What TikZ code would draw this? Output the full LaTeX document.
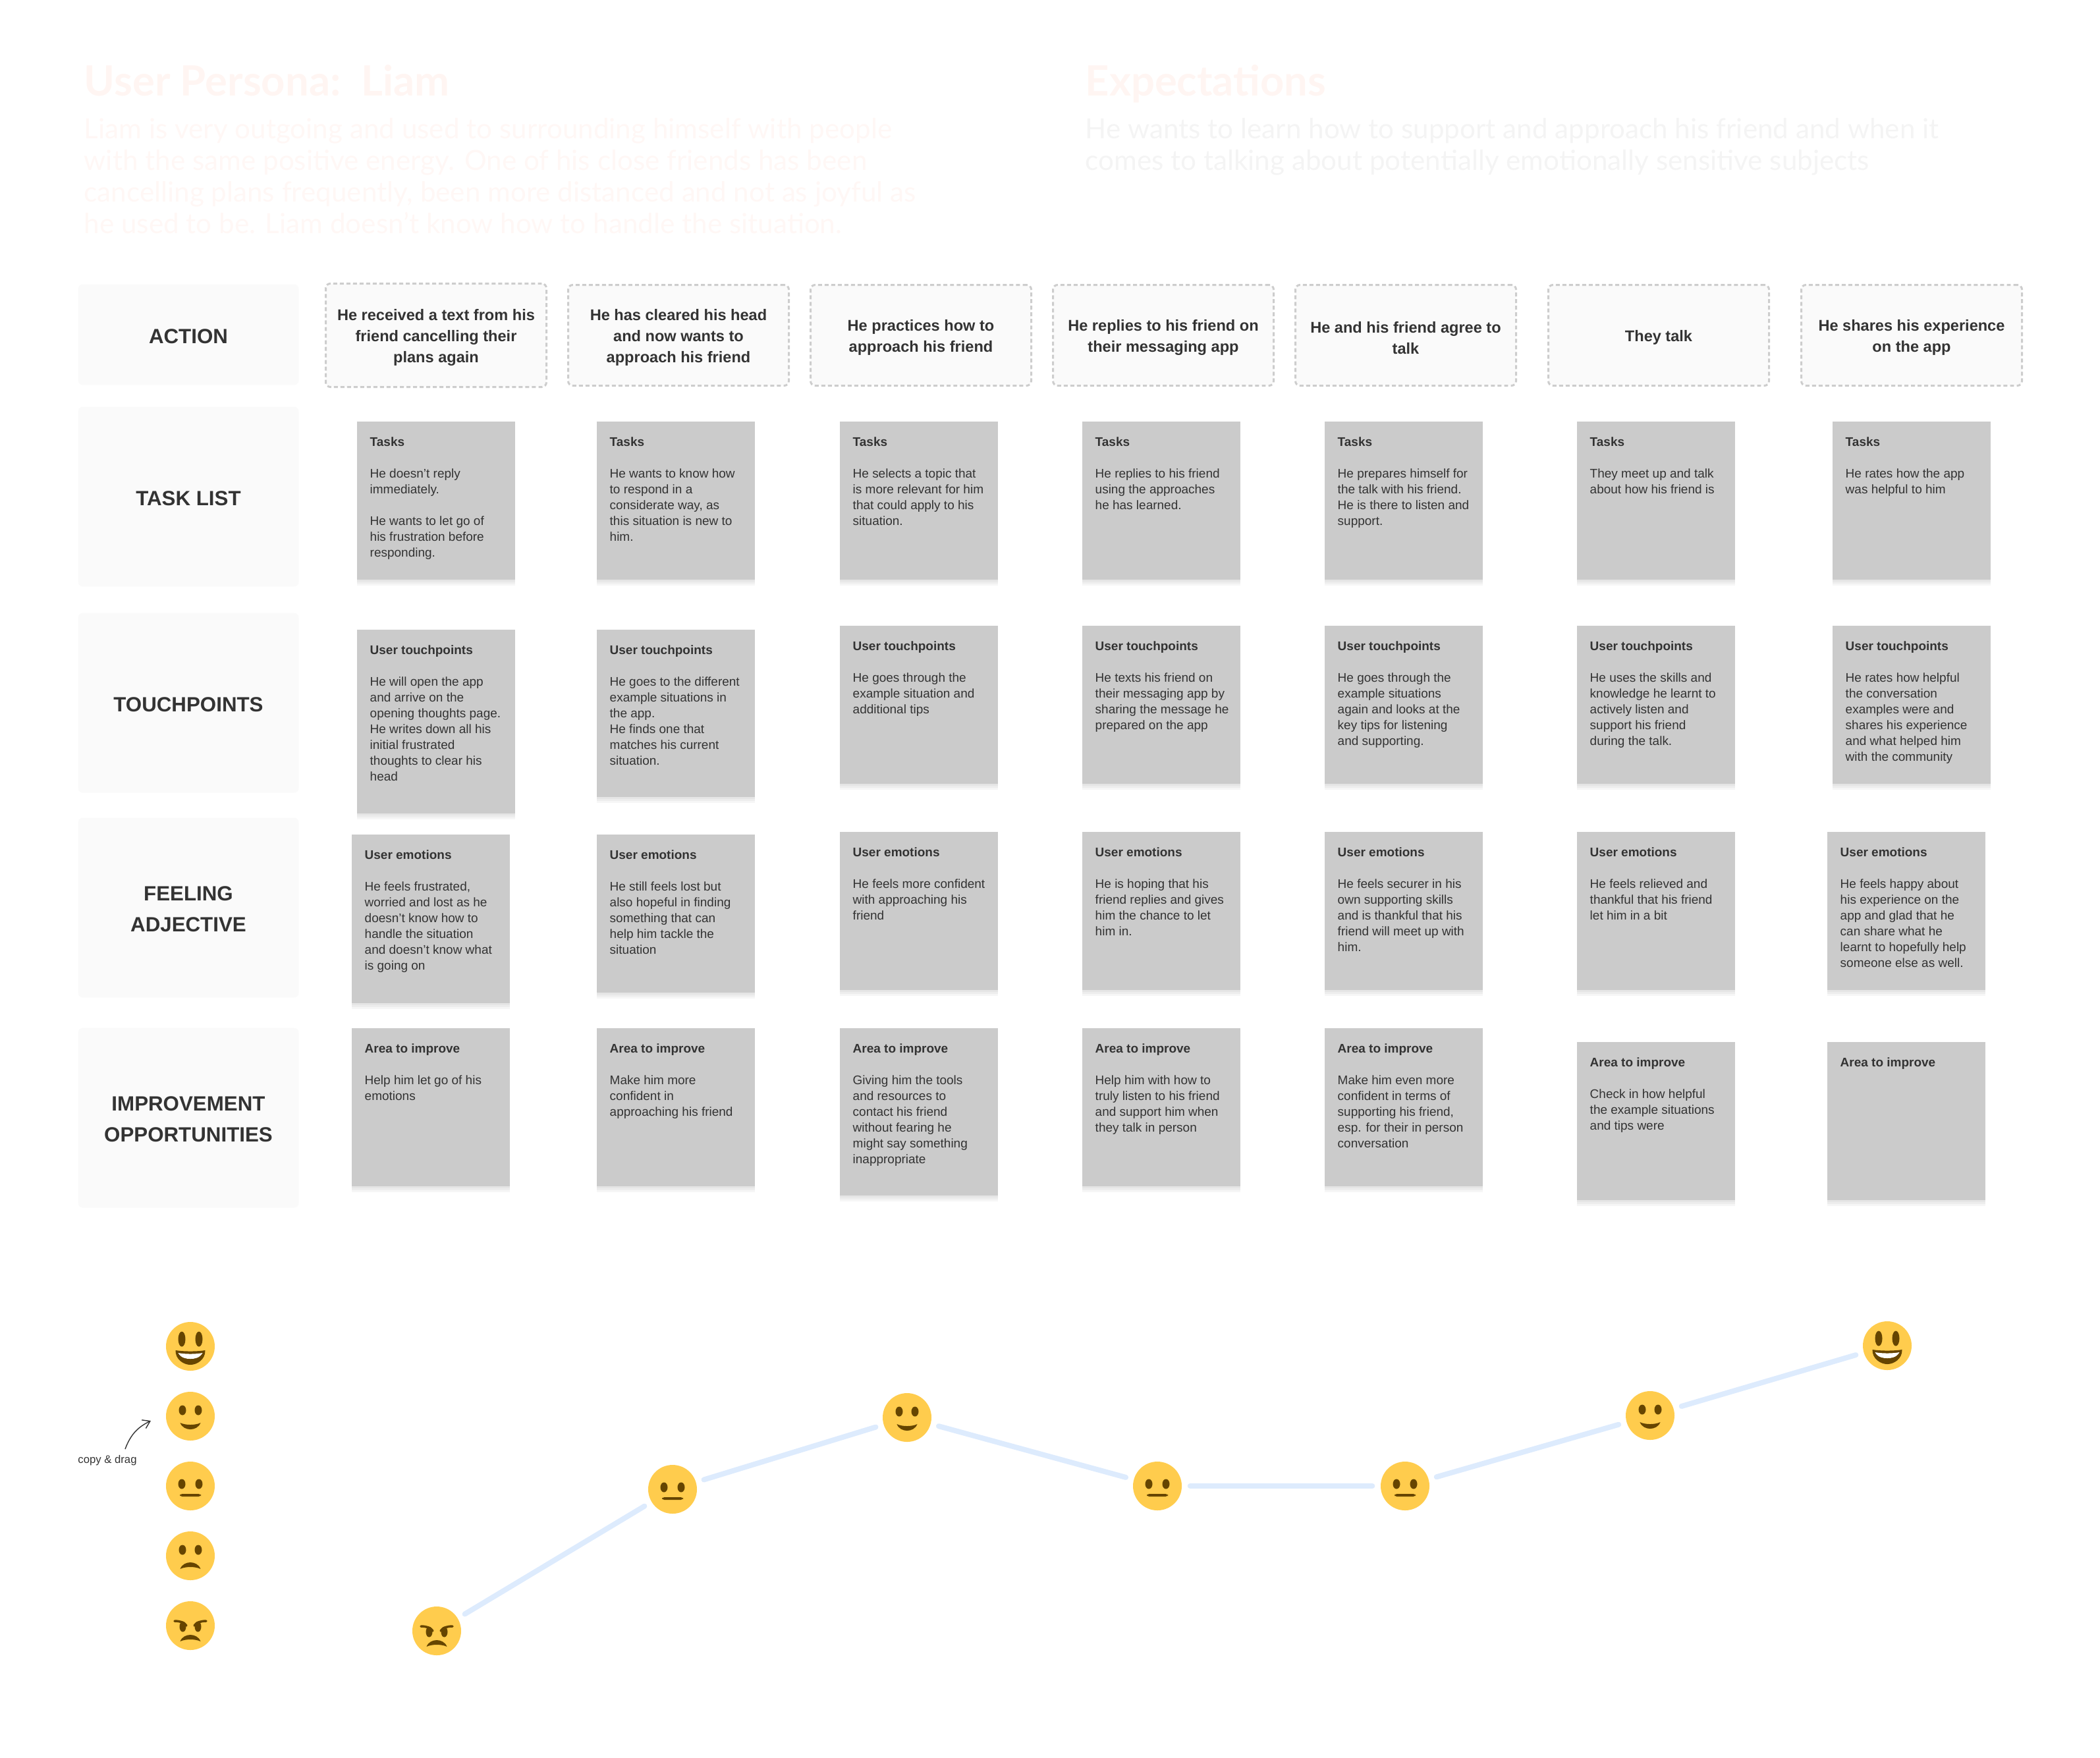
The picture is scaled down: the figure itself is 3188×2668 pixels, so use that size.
\documentclass[tikz,border=0pt]{standalone}
\usepackage{fontspec}
\setmainfont{Liberation Sans}
\newfontfamily\headfont{Lato}
\usetikzlibrary{positioning,arrows.meta,shadows,calc}
\definecolor{InkGrey}{RGB}{51,51,51}
\definecolor{PanelGrey}{RGB}{250,250,250}
\definecolor{DashGrey}{RGB}{205,205,205}
\definecolor{StickyGrey}{RGB}{203,203,203}
\definecolor{FaceYellow}{RGB}{255,204,77}
\definecolor{FaceBrown}{RGB}{102,69,0}
\definecolor{MoodBlue}{RGB}{221,235,253}
\definecolor{FaintRose}{RGB}{255,245,242}
\definecolor{FainterRose}{RGB}{255,247,245}
\definecolor{FaintGrey}{RGB}{244,244,244}
\def\px{0.01cm}
\tikzset{
  rowbox/.style={fill=PanelGrey, rounded corners=2pt, minimum width=335*\px, minimum height=273*\px,
    inner sep=0pt, align=center, text=InkGrey, font=\fontsize{8.9}{13.5}\selectfont\bfseries},
  actbox/.style={fill=PanelGrey, draw=DashGrey, line width=0.85pt, dash pattern=on 1.7pt off 1.15pt, rounded corners=2pt,
    minimum width=335*\px, minimum height=153*\px, inner sep=0pt, align=center, text=InkGrey,
    font=\fontsize{6.7}{9.1}\selectfont\bfseries},
  softshade/.style={drop shadow={shadow xshift=0pt, shadow yshift=-#1, opacity=0.035, fill=black}},
  sticky/.style={softshade=2.6pt, softshade=1.7pt, softshade=0.9pt, fill=StickyGrey, anchor=north west,
    minimum width=240*\px, inner sep=0pt},
  stickytxt/.style={anchor=north west, inner sep=0pt, align=left, text=InkGrey,
    font=\fontsize{5.4}{6.83}\selectfont},
  facenode/.style={circle, fill=FaceYellow, minimum size=74*\px, inner sep=0pt},
  moodline/.style={MoodBlue, line width=8*\px, line cap=round, shorten <=12*\px, shorten >=12*\px},
  eye/.style={fill=FaceBrown},
  brown/.style={fill=FaceBrown},
  headtxt/.style={anchor=north west, inner sep=0pt, align=left, font=\headfont\fontsize{18}{22}\selectfont\bfseries, text=FaintRose},
  bodytxt/.style={anchor=north west, inner sep=0pt, align=left, font=\headfont\fontsize{12}{13.65}\selectfont},
  pics/grin/.style={code={
    \fill[eye] (-13,-11) circle[x radius=5.5, y radius=11.5];
    \fill[eye] (13,-11) circle[x radius=5.5, y radius=11.5];
    \fill[brown] (-22.5,6) .. controls (-10,8) and (10,8) .. (22.5,6) .. controls (23,20) and (10,28) .. (0,28) .. controls (-10,28) and (-23,20) .. (-22.5,6) -- cycle;
    \fill[white] (-18.5,10) .. controls (-8,12) and (8,12) .. (18.5,10) .. controls (14,18) and (6,19) .. (0,19) .. controls (-6,19) and (-14,18) .. (-18.5,10) -- cycle;
  }},
  pics/smile/.style={code={
    \fill[eye] (-12,-9) circle[x radius=5.5, y radius=7.5];
    \fill[eye] (12,-9) circle[x radius=5.5, y radius=7.5];
    \fill[brown] (-15.5,10) .. controls (-8,14) and (8,14) .. (15.5,10) .. controls (13,17) and (6,20) .. (0,20) .. controls (-6,20) and (-13,17) .. (-15.5,10) -- cycle;
  }},
  pics/plainface/.style={code={
    \fill[eye] (-13,-3) circle[x radius=5.5, y radius=7.5];
    \fill[eye] (13,-3) circle[x radius=5.5, y radius=7.5];
    \fill[brown, rounded corners=1pt] (-16,12) rectangle (16,16);
  }},
  pics/frown/.style={code={
    \fill[eye] (-12,-9) circle[x radius=5.5, y radius=7.5];
    \fill[eye] (12,-9) circle[x radius=5.5, y radius=7.5];
    \fill[brown] (-15.5,20) .. controls (-13,13) and (-6,10) .. (0,10) .. controls (6,10) and (13,13) .. (15.5,20) .. controls (8,16) and (-8,16) .. (-15.5,20) -- cycle;
  }},
  pics/angry/.style={code={
    \fill[eye] (-11.5,1.5) circle[x radius=5, y radius=8];
    \fill[eye] (11.5,1.5) circle[x radius=5, y radius=8];
    \draw[FaceBrown, line width=3.5*\px, line cap=round] (-24,-7) .. controls (-16,-7) and (-9,-5) .. (-6,0);
    \draw[FaceBrown, line width=3.5*\px, line cap=round] (24,-7) .. controls (16,-7) and (9,-5) .. (6,0);
    \fill[brown] (-15.5,24) .. controls (-13,17) and (-6,14) .. (0,14) .. controls (6,14) and (13,17) .. (15.5,24) .. controls (8,20) and (-8,20) .. (-15.5,24) -- cycle;
  }},
}
\begin{document}
\begin{tikzpicture}[x=0.01cm, y=-0.01cm]
  \useasboundingbox (0,0) rectangle (3188,2668);
  % persona and expectations, very faint
  \node[headtxt] (persona) at (127,98) {User Persona:\ \ Liam};
  \node[bodytxt, text=FainterRose] (personatxt) at (127,179) {Liam is very outgoing and used to surrounding himself with people\\
    with the same positive energy. One of his close friends has been\\
    cancelling plans frequently, been more distanced and not as joyful as\\
    he used to be. Liam doesn’t know how to handle the situation.};
  \node[headtxt] (expect) at (1647,98) {Expectations};
  \node[bodytxt, text=FaintGrey] (expecttxt) at (1647,179) {He wants to learn how to support and approach his friend and when it\\
    comes to talking about potentially emotionally sensitive subjects};
  % row headers
  \foreach \nm/\yy/\hh/\txt in {act/508/153/ACTION, tsk/754/273/TASK LIST, tch/1067/273/TOUCHPOINTS,
      fel/1378/273/{FEELING\\ADJECTIVE}, imp/1697/273/{IMPROVEMENT\\OPPORTUNITIES}} {
    \node[rowbox, minimum height=\hh*\px] (\nm) at (286,\yy) {\rule{0pt}{7.5pt}\txt};
  }
  % action row
  \foreach \xx/\yy/\hh/\txt [count=\c from 1] in {662/509/157/{He received a text from his\\friend cancelling their\\plans again},
      1030/509/153/{He has cleared his head\\and now wants to\\approach his friend},
      1398/509/153/{He practices how to\\approach his friend},
      1766/509/153/{He replies to his friend on\\their messaging app},
      2134/509/153/{He and his friend agree to\\talk},
      2518/509/153/{They talk},
      2902/509/153/{He shares his experience\\on the app}} {
    \node[actbox, minimum height=\hh*\px] (act\c) at (\xx,\yy) {\rule{0pt}{7pt}\txt};
  }
  % task list row
  \foreach \xx/\yy/\hh/\txt [count=\c from 1] in {
      541/639/240/{He doesn’t reply\\immediately.\\[\baselineskip]He wants to let go of\\his frustration before\\responding.},
      905/639/240/{He wants to know how\\to respond in a\\considerate way, as\\this situation is new to\\him.},
      1274/639/240/{He selects a topic that\\is more relevant for him\\that could apply to his\\situation.},
      1642/639/240/{He replies to his friend\\using the approaches\\he has learned.},
      2010/639/240/{He prepares himself for\\the talk with his friend.\\He is there to listen and\\support.},
      2393/639/240/{They meet up and talk\\about how his friend is},
      2781/639/240/{He rates how the app\\was helpful to him}} {
    \node[sticky, minimum height=\hh*\px] (tsk\c) at (\xx,\yy) {};
    \node[stickytxt] (tsktxt\c) at ($(tsk\c.north west)+(20,24)$) {\textbf{Tasks}\\[\baselineskip]\txt};
  }
  % touchpoints row
  \foreach \xx/\yy/\hh/\txt [count=\c from 1] in {
      541/955/279/{He will open the app\\and arrive on the\\opening thoughts page.\\He writes down all his\\initial frustrated\\thoughts to clear his\\head},
      905/955/254/{He goes to the different\\example situations in\\the app.\\He finds one that\\matches his current\\situation.},
      1274/949/240/{He goes through the\\example situation and\\additional tips},
      1642/949/240/{He texts his friend on\\their messaging app by\\sharing the message he\\prepared on the app},
      2010/949/240/{He goes through the\\example situations\\again and looks at the\\key tips for listening\\and supporting.},
      2393/949/240/{He uses the skills and\\knowledge he learnt to\\actively listen and\\support his friend\\during the talk.},
      2781/949/240/{He rates how helpful\\the conversation\\examples were and\\shares his experience\\and what helped him\\with the community}} {
    \node[sticky, minimum height=\hh*\px] (tch\c) at (\xx,\yy) {};
    \node[stickytxt] (tchtxt\c) at ($(tch\c.north west)+(20,24)$) {\textbf{User touchpoints}\\[\baselineskip]\txt};
  }
  % feeling row
  \foreach \xx/\yy/\hh/\txt [count=\c from 1] in {
      533/1266/256/{He feels frustrated,\\worried and lost as he\\doesn’t know how to\\handle the situation\\and doesn’t know what\\is going on},
      905/1266/240/{He still feels lost but\\also hopeful in finding\\something that can\\help him tackle the\\situation},
      1274/1262/240/{He feels more confident\\with approaching his\\friend},
      1642/1262/240/{He is hoping that his\\friend replies and gives\\him the chance to let\\him in.},
      2010/1262/240/{He feels securer in his\\own supporting skills\\and is thankful that his\\friend will meet up with\\him.},
      2393/1262/240/{He feels relieved and\\thankful that his friend\\let him in a bit},
      2773/1262/240/{He feels happy about\\his experience on the\\app and glad that he\\can share what he\\learnt to hopefully help\\someone else as well.}} {
    \node[sticky, minimum height=\hh*\px] (fel\c) at (\xx,\yy) {};
    \node[stickytxt] (feltxt\c) at ($(fel\c.north west)+(20,24)$) {\textbf{User emotions}\\[\baselineskip]\txt};
  }
  % improvement row
  \foreach \xx/\yy/\hh/\txt [count=\c from 1] in {
      533/1560/240/{Help him let go of his\\emotions},
      905/1560/240/{Make him more\\confident in\\approaching his friend},
      1274/1560/254/{Giving him the tools\\and resources to\\contact his friend\\without fearing he\\might say something\\inappropriate},
      1642/1560/240/{Help him with how to\\truly listen to his friend\\and support him when\\they talk in person},
      2010/1560/240/{Make him even more\\confident in terms of\\supporting his friend,\\esp. for their in person\\conversation},
      2393/1581/240/{Check in how helpful\\the example situations\\and tips were},
      2773/1581/240/{}} {
    \node[sticky, minimum height=\hh*\px] (imp\c) at (\xx,\yy) {};
    \node[stickytxt] (imptxt\c) at ($(imp\c.north west)+(20,24)$) {\textbf{Area to improve}\\[\baselineskip]\txt};
  }
  % the faces to copy
  \foreach \y/\pc [count=\c from 1] in {2044/grin,2150/smile,2256/plainface,2362/frown,2468/angry} {
    \node[facenode] (key\c) at (289,\y) {};
    \pic at (key\c) {\pc};
  }
  \node[inner sep=0pt, text=InkGrey, font=\fontsize{4.75}{6}\selectfont] (drag) at (163,2217) {copy \& drag};
  \coordinate (dragto) at (229,2157);
  \coordinate (dragfrom) at (190,2200);
  \draw[-{Straight Barb[length=3pt,width=4pt]}, InkGrey, line width=0.4pt] (dragfrom) to[bend left=22] (dragto);
  % the journey
  \foreach \x/\y/\pc [count=\c from 1] in {663/2476/angry,1021/2261/plainface,1377/2152/smile,1757/2256/plainface,
      2133/2256/plainface,2505/2149/smile,2865/2043/grin} {
    \node[facenode] (mood\c) at (\x,\y) {};
    \pic at (mood\c) {\pc};
  }
  \foreach \a/\b in {1/2,2/3,3/4,4/5,5/6,6/7} {
    \draw[moodline] (mood\a) -- (mood\b);
  }
\end{tikzpicture}
\end{document}
